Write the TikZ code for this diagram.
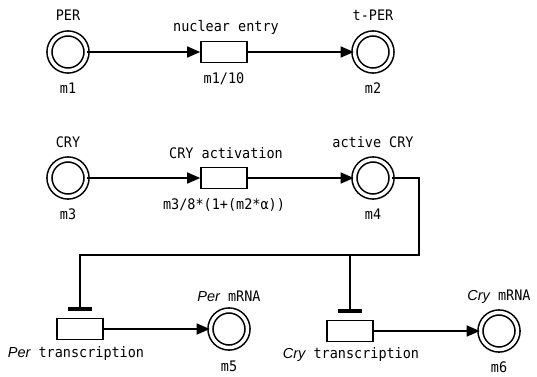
\documentclass[tikz,border=0pt]{standalone}
\usepackage{fontspec}
\setmainfont[FakeStretch=0.93]{DejaVu Sans Mono}
\newfontfamily\itsans{Liberation Sans}
\usetikzlibrary{arrows.meta,positioning}

\begin{document}
\begin{tikzpicture}[x=1pt,y=-1pt,font=\fontsize{14.5}{16}\selectfont,
place/.style={draw,circle,double,double distance=3.4pt,line width=1.6pt,minimum size=37pt,inner sep=0pt},
trans/.style={draw,rectangle,line width=1.6pt,minimum width=46pt,minimum height=21pt,inner sep=0pt},
txt/.style={inner sep=0pt},
flow/.style={line width=1.6pt,-{Triangle[length=13pt,width=11pt]}},
inhib/.style={line width=1.6pt,-{Bar[width=24pt,line width=3.5pt]},shorten >=7pt}]
\useasboundingbox (0,0) rectangle (537,376);
% places and transitions
\node[place] (m1) at (68,52) {};
\node[place] (m2) at (373,52) {};
\node[place] (m3) at (68,178) {};
\node[place] (m4) at (373,178) {};
\node[place] (m5) at (229,329) {};
\node[place] (m6) at (499,331) {};
\node[trans] (entry) at (224,52) {};
\node[trans] (activ) at (224,178) {};
\node[trans] (pertx) at (80,329) {};
\node[trans] (crytx) at (350,331) {};
% texts
\node[txt] (t1) at (68,15) {PER};
\node[txt] (b1) at (68,88) {m1};
\node[txt] (t2) at (373,15) {t-PER};
\node[txt] (b2) at (373,88) {m2};
\node[txt] (t3) at (68,142) {CRY};
\node[txt] (b3) at (68,214) {m3};
\node[txt] (t4) at (373,142) {active CRY};
\node[txt] (b4) at (373,214) {m4};
\node[txt] (t5) at (229,296) {{\itsans\itshape Per} mRNA};
\node[txt] (b5) at (229,366) {m5};
\node[txt] (t6) at (499,297) {{\itsans\itshape Cry} mRNA};
\node[txt] (b6) at (499,367) {m6};
\node[txt] (te) at (226,27) {nuclear entry};
\node[txt] (be) at (224,79) {m1/10};
\node[txt] (ta) at (226,153) {CRY activation};
\node[txt] (ba) at (224,205) {m3/8*(1+(m2*α))};
\node[txt] (bp) at (76,353) {{\itsans\itshape Per} transcription};
\node[txt] (bc) at (351,354) {{\itsans\itshape Cry} transcription};
% arcs
\draw[flow] (m1) -- (entry);
\draw[flow] (entry) -- (m2);
\draw[flow] (m3) -- (activ);
\draw[flow] (activ) -- (m4);
\draw[flow] (pertx) -- (m5);
\draw[flow] (crytx) -- (m6);
\coordinate (bend) at (419,255);
\coordinate (split) at (crytx |- bend);
\draw[inhib] (m4.east) -| (bend) -| (pertx.north);
\draw[inhib] (split) -- (crytx.north);
\end{tikzpicture}
\end{document}
